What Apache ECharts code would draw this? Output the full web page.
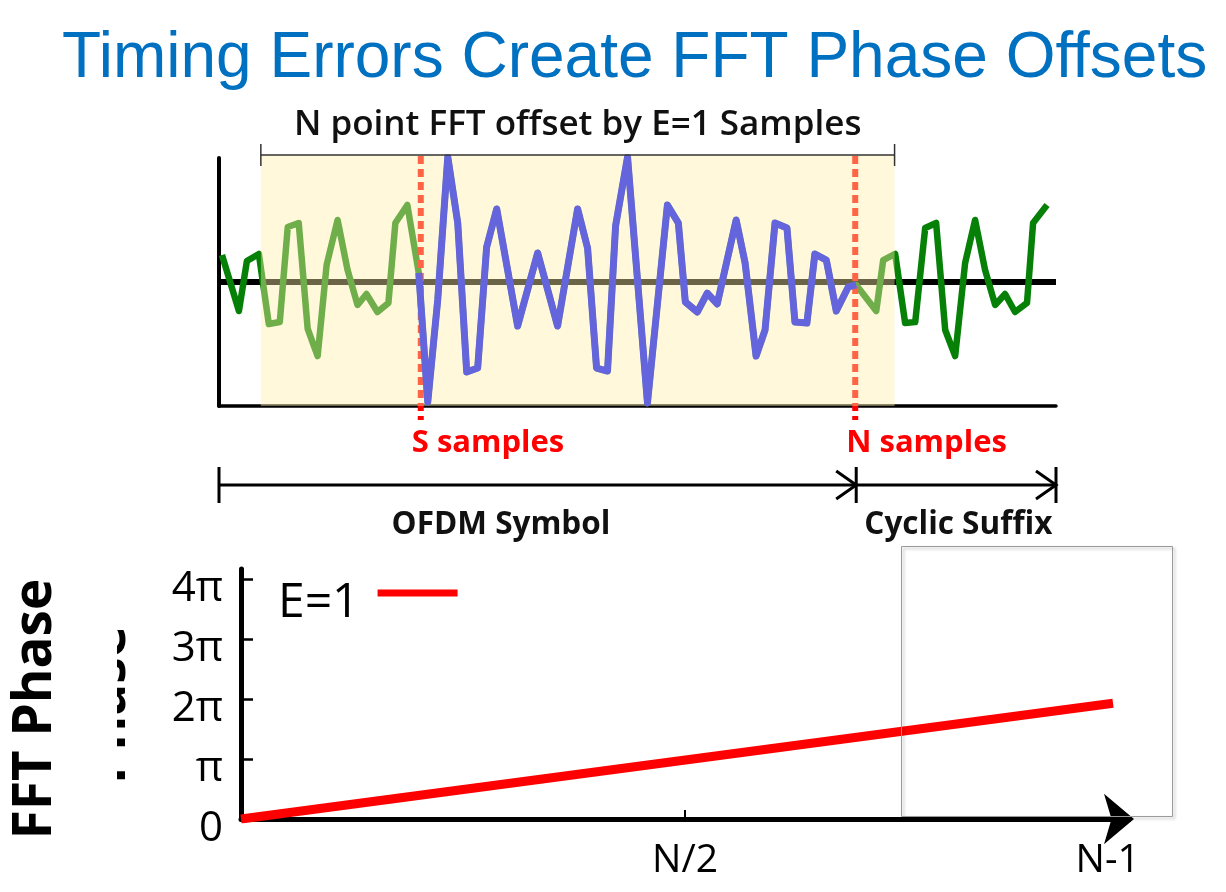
<!DOCTYPE html>
<html>
<head>
<meta charset="utf-8">
<script src="https://cdn.jsdelivr.net/npm/echarts@6/dist/echarts.min.js"></script>
<style>
html,body{margin:0;padding:0;background:#fff;}
#c{width:1226px;height:892px;}
</style>
</head>
<body>
<div id="c"></div>
<script>
// ---------------- data ----------------
const mainTitle = 'Timing Errors Create FFT Phase Offsets';
const windowTitle = 'N point FFT offset by E=1 Samples';

// time-domain OFDM signal (sample index, amplitude)
const sampleT = [0.3, 2.0, 2.8, 4.0, 5.0, 6.1, 6.9, 8.0, 8.9, 9.9,
  10.8, 11.9, 12.9, 13.9, 14.8, 15.9, 17.0, 17.7, 18.9, 20.05,
  20.95, 21.95, 22.96, 23.96, 24.86, 25.96, 26.86, 27.87, 29.97, 31.98,
  33.98, 35.99, 36.99, 37.89, 38.99, 39.8, 41.0, 43.0, 45.0, 46.1,
  46.8, 48.0, 49.0, 50.0, 51.9, 52.8, 53.9, 54.8, 55.8, 57.0,
  57.8, 59.0, 59.8, 60.95, 61.95, 63.15, 63.95, 65.96, 66.66, 67.86,
  68.86, 69.87, 70.87, 71.97, 72.88, 73.88, 74.88, 75.88, 76.88, 77.89,
  78.89, 79.89, 81.09, 81.7, 83.1];
const sampleV = [0.218, -0.234, 0.169, 0.226, -0.339, -0.323, 0.444, 0.476, -0.379, -0.597,
  0.137, 0.500, 0.097, -0.185, -0.097, -0.242, -0.169, 0.476, 0.621, 0.073,
  -0.968, -0.145, 1.008, 0.476, -0.726, -0.694, 0.282, 0.589, -0.355, 0.234,
  -0.355, 0.589, 0.274, -0.694, -0.718, 0.452, 1.008, -0.976, 0.621, 0.476,
  -0.161, -0.242, -0.089, -0.177, 0.500, 0.153, -0.597, -0.387, 0.476, 0.435,
  -0.323, -0.331, 0.226, 0.177, -0.234, -0.040, -0.024, -0.234, 0.177, 0.226,
  -0.331, -0.323, 0.435, 0.476, -0.387, -0.597, 0.153, 0.500, 0.097, -0.185,
  -0.097, -0.242, -0.169, 0.476, 0.621];
const symbolStartIdx = 19;   // first sample of the S..N part (blue)
const symbolEndIdx = 56;     // last sample of the S..N part (blue)

const fftWindow = [4.2, 67.8];            // N point FFT window (sample index)
const markerT = [20.25, 63.85];           // S samples, N samples
const markerLabels = ['S samples', 'N samples'];
const spanBounds = [0, 63.95, 84];        // OFDM symbol / cyclic suffix bounds
const spanLabelT = [28.3, 74.2];
const spanLabels = ['OFDM Symbol', 'Cyclic Suffix'];

// FFT phase plot
const legendName = 'E=1';
const phaseX = [0, 0.982];                // fraction of N
const phaseY = [0, 1.93];                 // phase in units of pi
const yTickVals = [0, 1, 2, 3, 4];
const yTickLabels = ['0', 'π', '2π', '3π', '4π'];
const xTickVals = [0.5, 0.976];
const xTickLabels = ['N/2', 'N-1'];
const yAxisTitle = 'FFT Phase';

// ---------------- build ----------------
const sig = sampleT.map((t, i) => [t, sampleV[i]]);
const sigBlue = sig.slice(symbolStartIdx, symbolEndIdx + 1);
const phase = phaseX.map((x, i) => [x, phaseY[i]]);
const FONT = '"Open Sans", "Noto Sans", sans-serif';

const chart = echarts.init(document.getElementById('c'), null, {renderer: 'canvas'});

function seg(a, b, style) {
  return {type: 'line', shape: {x1: a[0], y1: a[1], x2: b[0], y2: b[1]}, style: style};
}

const option = {
  animation: false,
  backgroundColor: '#ffffff',
  title: {
    text: mainTitle, left: 62, top: 27, padding: 0,
    textStyle: {color: '#0070c0', fontSize: 64, fontWeight: 'normal', fontFamily: '"Liberation Sans", Arial, sans-serif'}
  },
  legend: {
    data: [legendName], left: 278, top: 579, padding: 0, align: 'right',
    icon: 'path://M0,0 H80 V7 H0 Z M0,27 L0.05,27 L0.05,26.95 Z',
    itemWidth: 80, itemHeight: 27,
    textStyle: {fontSize: 48, fontFamily: FONT, color: '#000', padding: [0, 13, 0, 0]}
  },
  grid: [
    {left: 219, top: 158, width: 837, height: 248},
    {left: 241, top: 569, width: 888, height: 250}
  ],
  xAxis: [
    {gridIndex: 0, type: 'value', min: 0, max: 84,
      axisLine: {show: true, onZero: false, lineStyle: {color: '#000', width: 3.5}},
      axisTick: {show: false}, axisLabel: {show: false}, splitLine: {show: false}},
    {gridIndex: 1, type: 'value', min: 0, max: 1,
      axisLine: {show: true, onZero: false, symbol: ['none', 'arrow'], symbolSize: [38, 30], symbolOffset: [0, 5],
        lineStyle: {color: '#000', width: 5}},
      axisTick: {show: true, inside: true, length: 9, customValues: [xTickVals[0]], lineStyle: {color: '#000', width: 2}},
      axisLabel: {customValues: xTickVals, formatter: v => xTickLabels[xTickVals.indexOf(v)],
        fontSize: 39, fontFamily: FONT, color: '#000', margin: 22},
      splitLine: {show: false}}
  ],
  yAxis: [
    {gridIndex: 0, type: 'value', min: -1, max: 1,
      axisLine: {show: true, onZero: false, lineStyle: {color: '#000', width: 4}},
      axisTick: {show: false}, axisLabel: {show: false}, splitLine: {show: false}},
    {gridIndex: 1, type: 'value', min: 0, max: 4.17,
      axisLine: {show: true, onZero: false, lineStyle: {color: '#000', width: 5}},
      axisTick: {show: true, inside: true, length: 12, customValues: yTickVals.slice(1), lineStyle: {color: '#000', width: 2.5}},
      axisLabel: {customValues: yTickVals, formatter: v => yTickLabels[yTickVals.indexOf(v)],
        fontSize: 42, fontFamily: FONT, color: '#000', margin: 18, verticalAlign: 'top', lineHeight: 20},
      splitLine: {show: false}}
  ],
  series: [
    { // zero reference line
      type: 'custom', name: 'zero', xAxisIndex: 0, yAxisIndex: 0, z: 1, silent: true,
      data: [[0, 0]],
      renderItem: (p, api) => ({type: 'group', children: [
        seg(api.coord([0, 0]), api.coord([84, 0]), {stroke: '#000', lineWidth: 6})
      ]})
    },
    { // full signal (green)
      type: 'line', name: 'signal', xAxisIndex: 0, yAxisIndex: 0, z: 2, silent: true,
      data: sig, showSymbol: false, symbol: 'none',
      lineStyle: {color: '#078007', width: 6.5, join: 'round'}
    },
    { // red dashed sample markers
      type: 'custom', name: 'markers', xAxisIndex: 0, yAxisIndex: 0, z: 3, silent: true,
      data: [[0, 0]],
      renderItem: (p, api) => ({type: 'group', children: markerT.map(t =>
        seg(api.coord([t, 1.016]), api.coord([t, -1.113]), {stroke: '#ff0000', lineWidth: 6, lineDash: [8, 5]}))})
    },
    { // FFT window highlight
      type: 'custom', name: 'window', xAxisIndex: 0, yAxisIndex: 0, z: 4, silent: true,
      data: [[0, 0]],
      renderItem: (p, api) => {
        const a = api.coord([fftWindow[0], 1.024]), b = api.coord([fftWindow[1], -1]);
        return {type: 'rect', shape: {x: a[0], y: a[1], width: b[0] - a[0], height: b[1] - a[1]},
          style: {fill: 'rgba(255,238,167,0.42)'}};
      }
    },
    { // S..N part of the signal (blue)
      type: 'line', name: 'symbol', xAxisIndex: 0, yAxisIndex: 0, z: 5, silent: true,
      data: sigBlue, showSymbol: false, symbol: 'none',
      lineStyle: {color: '#6464dc', width: 7, join: 'round'}
    },
    { // brackets and labels
      type: 'custom', name: 'annotations', xAxisIndex: 0, yAxisIndex: 0, z: 6, silent: true,
      data: [[0, 0]],
      renderItem: (p, api) => {
        const ch = [];
        const thin = {stroke: '#333', lineWidth: 1.5};
        const w0 = api.coord([fftWindow[0], 1.024]), w1 = api.coord([fftWindow[1], 1.024]);
        ch.push(seg(w0, w1, thin));
        [w0, w1].forEach(q => ch.push(seg([q[0], q[1] - 11], [q[0], q[1] + 11], thin)));
        const tc = api.coord([(fftWindow[0] + fftWindow[1]) / 2, 1.266]);
        ch.push({type: 'text', style: {text: windowTitle, x: tc[0], y: tc[1], align: 'center', verticalAlign: 'middle',
          font: '600 35px ' + FONT, fill: '#111'}});
        markerT.forEach((t, i) => {
          const q = api.coord([t, -1.298]);
          ch.push({type: 'text', style: {text: markerLabels[i], x: q[0] - 9, y: q[1], align: 'left', verticalAlign: 'middle',
            font: 'bold 31px ' + FONT, fill: '#ff0000'}});
        });
        const thick = {stroke: '#000', lineWidth: 3};
        const b = spanBounds.map(t => api.coord([t, -1.637]));
        ch.push(seg(b[0], b[2], thick));
        b.forEach(q => ch.push(seg([q[0], q[1] - 18], [q[0], q[1] + 18], thick)));
        [b[1], b[2]].forEach(q => ch.push({type: 'polyline',
          shape: {points: [[q[0] - 20, q[1] - 14], [q[0], q[1]], [q[0] - 20, q[1] + 14]]},
          style: {stroke: '#000', lineWidth: 3, fill: null}}));
        spanLabels.forEach((s, i) => {
          const q = api.coord([spanLabelT[i], -1.956]);
          ch.push({type: 'text', style: {text: s, x: q[0], y: q[1], align: 'center', verticalAlign: 'middle',
            font: 'bold 31.5px ' + FONT, fill: '#111'}});
        });
        return {type: 'group', children: ch};
      }
    },
    { // FFT phase line
      type: 'line', name: legendName, xAxisIndex: 1, yAxisIndex: 1, z: 3,
      data: phase, showSymbol: false, symbol: 'none', color: '#ff0000',
      lineStyle: {color: '#ff0000', width: 9}
    }
  ],
  graphic: [
    {type: 'text', z: 1, x: 110, y: 705, rotation: Math.PI / 2,
      style: {text: 'Phase', font: 'bold 53px ' + FONT, fill: '#000', align: 'center', verticalAlign: 'middle'}},
    {type: 'rect', z: 2, shape: {x: 60, y: 590, width: 57, height: 230}, style: {fill: '#fff'}},
    {type: 'text', z: 3, x: 36, y: 709, rotation: Math.PI / 2,
      style: {text: yAxisTitle, font: 'bold 53px ' + FONT, fill: '#000', align: 'center', verticalAlign: 'middle'}},
    {type: 'rect', z: 100, shape: {x: 901.5, y: 546.5, width: 271, height: 270},
      style: {fill: null, stroke: '#9a9a9a', lineWidth: 1, shadowBlur: 3, shadowOffsetX: 2, shadowOffsetY: 2,
        shadowColor: 'rgba(0,0,0,0.3)'}}
  ]
};
chart.setOption(option);
</script>
</body>
</html>
